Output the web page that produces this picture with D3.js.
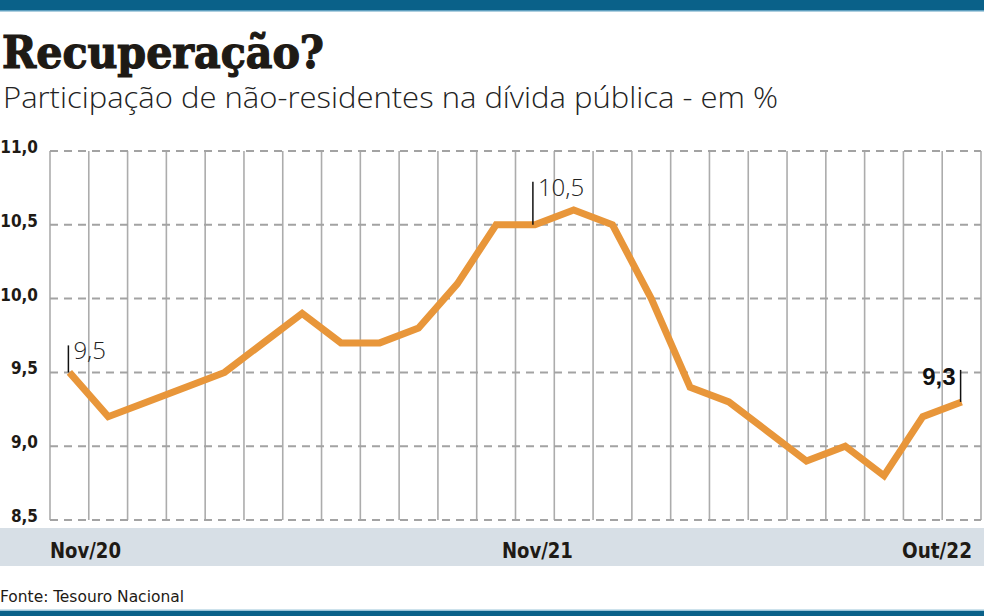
<!DOCTYPE html>
<html><head><meta charset="utf-8">
<script src="https://cdn.jsdelivr.net/npm/d3@7"></script>
<style>
body{margin:0;background:#fff;}
svg{display:block;}
.cond{font-family:'DejaVu Sans Condensed','DejaVu Sans',sans-serif;font-stretch:condensed;}
</style></head>
<body>
<svg id="c" width="984" height="616"></svg>
<script>
const months = ["Nov/20","Dez/20","Jan/21","Fev/21","Mar/21","Abr/21","Mai/21","Jun/21","Jul/21","Ago/21","Set/21","Out/21","Nov/21","Dez/21","Jan/22","Fev/22","Mar/22","Abr/22","Mai/22","Jun/22","Jul/22","Ago/22","Set/22","Out/22"];
const values = [9.5,9.2,9.3,9.4,9.5,9.7,9.9,9.7,9.7,9.8,10.1,10.5,10.5,10.6,10.5,10.0,9.4,9.3,9.1,8.9,9.0,8.8,9.2,9.3];
const yTicks = [8.5,9.0,9.5,10.0,10.5,11.0];
const xLabels = ["Nov/20","Nov/21","Out/22"];
const annotations = [{m:"Nov/20",v:9.5,t:"9,5"},{m:"Nov/21",v:10.5,t:"10,5"},{m:"Out/22",v:9.3,t:"9,3"}];

const svg = d3.select("#c");
const fmt = d => d3.format(".1f")(d).replace(".",",");

const x = d3.scaleBand().domain(months).range([50,981]);
const y = d3.scaleLinear().domain([8.5,11]).range([520,151]);
const cx = m => x(m) + x.bandwidth()/2;

// top & bottom bars
svg.append("rect").attr("x",0).attr("y",0).attr("width",984).attr("height",10).attr("fill","#0a6189");
svg.append("rect").attr("x",0).attr("y",10).attr("width",984).attr("height",1.5).attr("fill","#5fa0c0");
svg.append("rect").attr("x",0).attr("y",611).attr("width",984).attr("height",5).attr("fill","#0a6189");
svg.append("rect").attr("x",0).attr("y",609.5).attr("width",984).attr("height",1.5).attr("fill","#9cc6da");

// title
svg.append("text").attr("x",2).attr("y",68).text("Recuperação?")
  .attr("font-family","'DejaVu Serif'").attr("font-weight","bold").attr("font-stretch","condensed")
  .attr("font-size",45).attr("fill","#1e1a15").attr("stroke","#1e1a15").attr("stroke-width",1.2)
  .attr("textLength",322).attr("lengthAdjust","spacingAndGlyphs");
svg.append("text").attr("x",3).attr("y",108).text("Participação de não-residentes na dívida pública - em %")
  .attr("font-family","'Open Sans'").attr("font-weight",300)
  .attr("font-size",29).attr("fill","#222").attr("textLength",775).attr("lengthAdjust","spacingAndGlyphs");

// bottom band
svg.append("rect").attr("x",0).attr("y",528).attr("width",984).attr("height",38).attr("fill","#d7dfe6");

// vertical grid
const edges = months.map(m => x(m)).concat([x(months[months.length-1]) + x.bandwidth()]);
svg.append("g").selectAll("line").data(edges).join("line")
  .attr("x1",d=>d).attr("x2",d=>d).attr("y1",y(11)).attr("y2",y(8.5))
  .attr("stroke","#acacac").attr("stroke-width",1.6);

// horizontal dashed grid
svg.append("g").selectAll("line").data(yTicks).join("line")
  .attr("x1",50).attr("x2",981).attr("y1",d=>y(d)).attr("y2",d=>y(d))
  .attr("stroke","#a3a3a3").attr("stroke-width",2).attr("stroke-dasharray","8,6");

// y labels
svg.append("g").selectAll("text").data(yTicks).join("text")
  .attr("class","cond")
  .attr("x",38).attr("y",d=>y(d)+2).attr("text-anchor","end").text(fmt)
  .attr("font-weight","bold")
  .attr("font-size",17).attr("fill","#1e1a15");

// x labels
svg.append("g").selectAll("text").data(xLabels).join("text")
  .attr("class","cond")
  .attr("x",(d,i)=> i===0 ? 50 : i===1 ? cx(d)-33 : 972)
  .attr("text-anchor",(d,i)=> i===2 ? "end" : "start")
  .attr("y",558).text(d=>d)
  .attr("font-weight","bold")
  .attr("font-size",21).attr("fill","#1e1a15")
  .attr("textLength",(d,i)=> i===2 ? 70 : 71).attr("lengthAdjust","spacingAndGlyphs");

// line
const line = d3.line().x((d,i)=>cx(months[i])).y(d=>y(d));
svg.append("path").datum(values).attr("d",line).attr("fill","none")
  .attr("stroke","#e8963a").attr("stroke-width",7).attr("stroke-linejoin","miter");

// annotations
const a0 = annotations[0];
svg.append("line").attr("x1",cx(a0.m)-1).attr("x2",cx(a0.m)-1).attr("y1",y(a0.v)-27).attr("y2",y(a0.v))
  .attr("stroke","#111").attr("stroke-width",1.5);
svg.append("text").attr("x",cx(a0.m)+4).attr("y",y(a0.v)-13).text(a0.t)
  .attr("font-family","'Open Sans'").attr("font-weight",300).attr("font-size",24).attr("fill","#222");

const a1 = annotations[1];
svg.append("line").attr("x1",cx(a1.m)-2).attr("x2",cx(a1.m)-2).attr("y1",y(a1.v)-43).attr("y2",y(a1.v))
  .attr("stroke","#111").attr("stroke-width",1.5);
svg.append("text").attr("x",cx(a1.m)+3).attr("y",y(a1.v)-29).text(a1.t)
  .attr("font-family","'Open Sans'").attr("font-weight",300).attr("font-size",24).attr("fill","#222");

const a2 = annotations[2];
svg.append("line").attr("x1",cx(a2.m)-1).attr("x2",cx(a2.m)-1).attr("y1",y(a2.v)-32).attr("y2",y(a2.v))
  .attr("stroke","#111").attr("stroke-width",1.5);
svg.append("text").attr("x",cx(a2.m)-6).attr("y",y(a2.v)-17).attr("text-anchor","end").text(a2.t)
  .attr("font-family","'Liberation Sans'").attr("font-weight","bold").attr("font-size",24).attr("fill","#111");

// source
svg.append("text").attr("class","cond").attr("x",0).attr("y",602).text("Fonte: Tesouro Nacional")
  .attr("font-size",15).attr("fill","#1e1a15").attr("textLength",184).attr("lengthAdjust","spacingAndGlyphs");
</script>
</body></html>
